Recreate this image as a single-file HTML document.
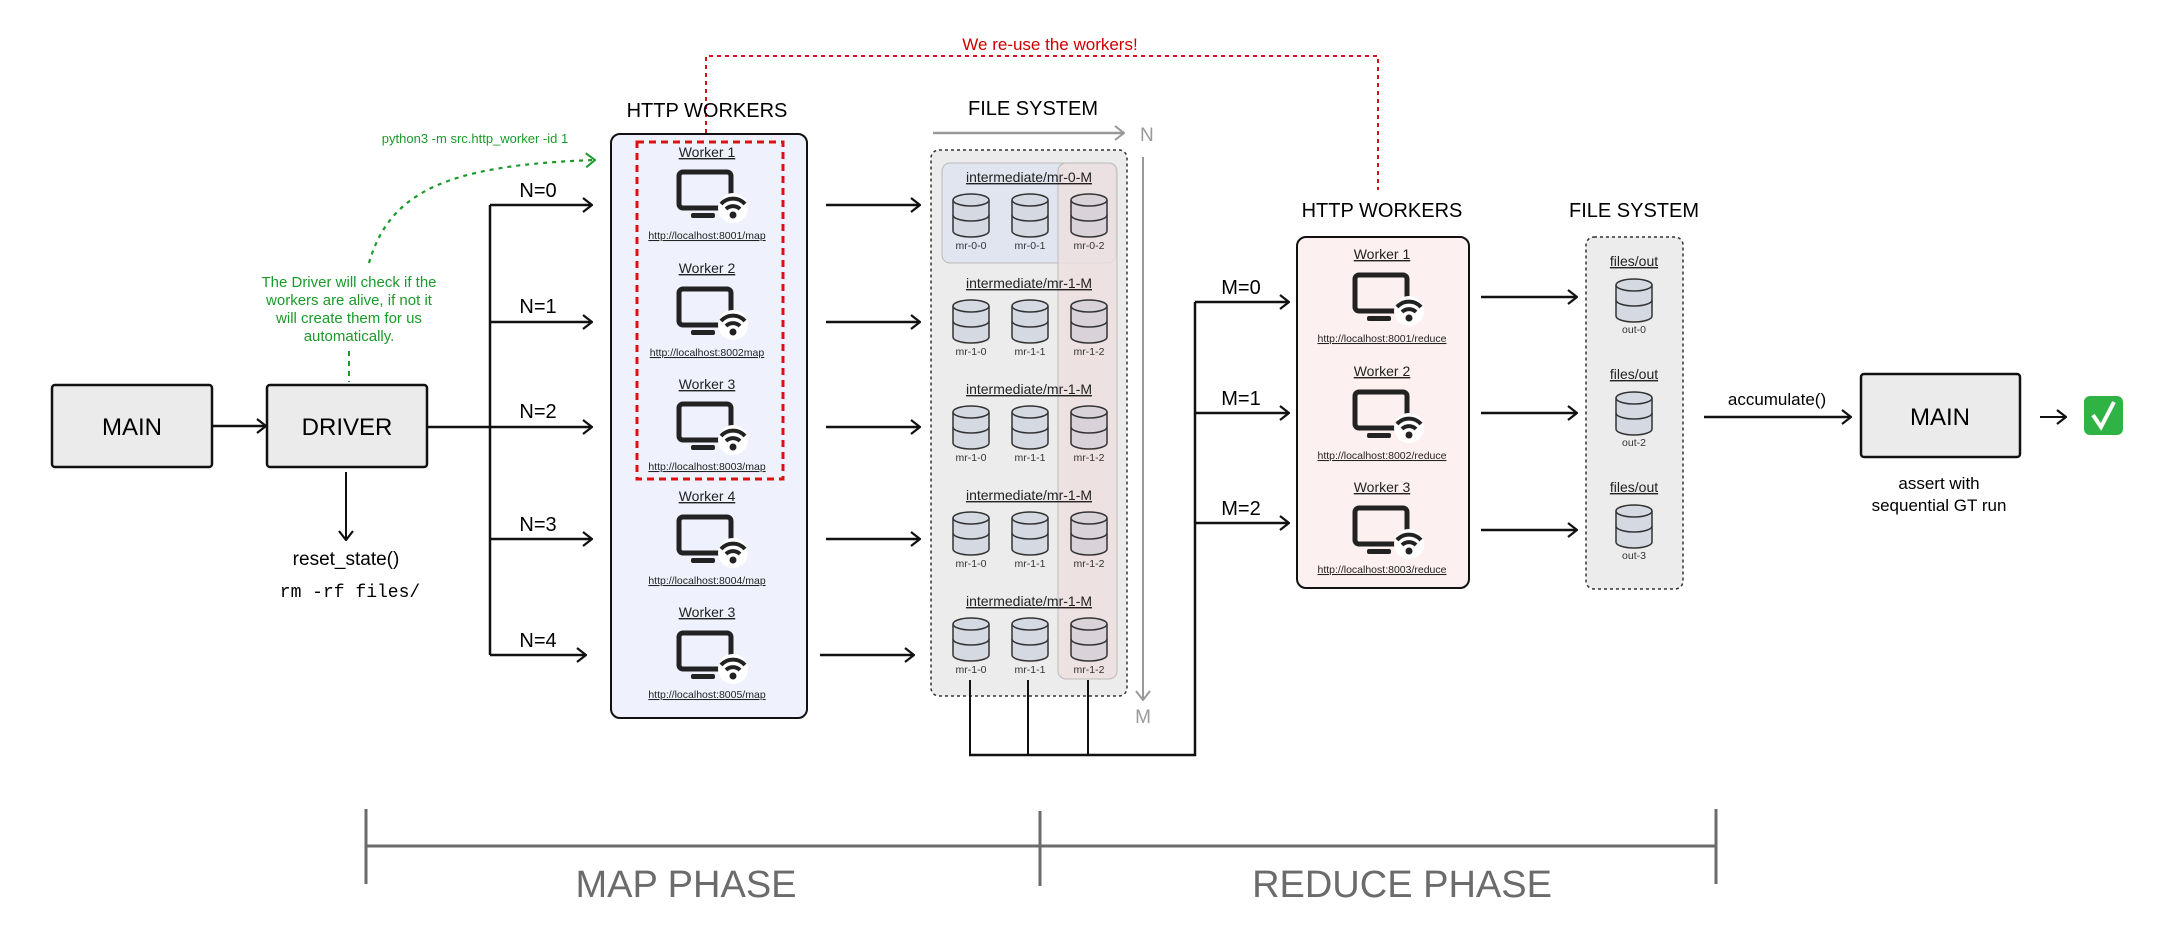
<!DOCTYPE html>
<html><head><meta charset="utf-8"><style>
html,body{margin:0;padding:0;background:#fff;}
svg{display:block;font-family:"Liberation Sans",sans-serif;}
</style></head><body>
<svg width="2176" height="951" viewBox="0 0 2176 951" xmlns="http://www.w3.org/2000/svg">
<defs>
<g id="mon">
  <rect x="-26" y="-18" width="52" height="36" rx="4" fill="none" stroke="#222" stroke-width="5"/>
  <rect x="-14" y="23" width="24" height="5" rx="2" fill="#222"/>
  <circle cx="28" cy="18" r="15" fill="#fff"/>
  <path d="M16,14 a16,16 0 0 1 24,0" fill="none" stroke="#222" stroke-width="4"/>
  <path d="M21,19 a10,10 0 0 1 14,0" fill="none" stroke="#222" stroke-width="4"/>
  <circle cx="28" cy="25" r="3.5" fill="#222"/>
</g>
<g id="cyl">
  <path d="M-18,6 v31 a18,6 0 0 0 36,0 v-31" stroke="#333" stroke-width="1.5"/>
  <path d="M-18,21 a18,6 0 0 0 36,0" fill="none" stroke="#333" stroke-width="1.5"/>
  <ellipse cx="0" cy="6" rx="18" ry="6" stroke="#333" stroke-width="1.5"/>
</g>
<marker id="ah" markerWidth="12" markerHeight="16" refX="11" refY="8" orient="auto" markerUnits="userSpaceOnUse">
  <path d="M2,1 L11,8 L2,15" fill="none" stroke="#111" stroke-width="2.2"/>
</marker>
<marker id="ahg" markerWidth="12" markerHeight="16" refX="11" refY="8" orient="auto" markerUnits="userSpaceOnUse">
  <path d="M2,1 L11,8 L2,15" fill="none" stroke="#999" stroke-width="2"/>
</marker>
<marker id="ahgr" markerWidth="12" markerHeight="16" refX="11" refY="8" orient="auto" markerUnits="userSpaceOnUse">
  <path d="M2,1 L11,8 L2,15" fill="none" stroke="#1a9a2a" stroke-width="2"/>
</marker>
</defs>

<path d="M706,141 V56 H1378 V190" fill="none" stroke="#d11" stroke-width="2" stroke-dasharray="4,4"/>
<text x="1050" y="50" font-size="17" fill="#c00" text-anchor="middle">We re-use the workers!</text>

<rect x="52" y="385" width="160" height="82" rx="3" fill="#ebebeb" stroke="#111" stroke-width="2.5"/>
<text x="132" y="435" font-size="24" text-anchor="middle">MAIN</text>
<rect x="267" y="385" width="160" height="82" rx="3" fill="#ebebeb" stroke="#111" stroke-width="2.5"/>
<text x="347" y="435" font-size="24" text-anchor="middle">DRIVER</text>
<line x1="212" y1="426" x2="266" y2="426" stroke="#111" stroke-width="2.5" marker-end="url(#ah)"/>
<line x1="346" y1="472" x2="346" y2="540" stroke="#111" stroke-width="2" marker-end="url(#ah)"/>
<text x="346" y="565" font-size="19" text-anchor="middle">reset_state()</text>
<text x="350" y="597" font-size="18" text-anchor="middle" font-family="Liberation Mono, monospace">rm -rf files/</text>

<text x="475" y="143" font-size="13" fill="#1a9a2a" text-anchor="middle">python3 -m src.http_worker -id 1</text>
<path d="M369,263 C390,190 450,165 595,160" fill="none" stroke="#1a9a2a" stroke-width="2.2" stroke-dasharray="4,5" marker-end="url(#ahgr)"/>
<g font-size="15" fill="#1a9a2a" text-anchor="middle">
<text x="349" y="287">The Driver will check if the</text>
<text x="349" y="305">workers are alive, if not it</text>
<text x="349" y="323">will create them for us</text>
<text x="349" y="341">automatically.</text>
</g>
<line x1="349" y1="351" x2="349" y2="382" stroke="#1a9a2a" stroke-width="2" stroke-dasharray="5,5"/>

<g stroke="#111" stroke-width="2.5" fill="none">
<line x1="427" y1="427" x2="490" y2="427"/>
<path d="M490,205 V655"/>
<line x1="490" y1="205" x2="592" y2="205" marker-end="url(#ah)"/>
<line x1="490" y1="322" x2="592" y2="322" marker-end="url(#ah)"/>
<line x1="490" y1="427" x2="592" y2="427" marker-end="url(#ah)"/>
<line x1="490" y1="539" x2="592" y2="539" marker-end="url(#ah)"/>
<line x1="490" y1="655" x2="586" y2="655" marker-end="url(#ah)"/>
</g>
<g font-size="20" text-anchor="middle">
<text x="538" y="197">N=0</text><text x="538" y="313">N=1</text><text x="538" y="418">N=2</text><text x="538" y="531">N=3</text><text x="538" y="647">N=4</text>
</g>

<text x="707" y="117" font-size="20" text-anchor="middle">HTTP WORKERS</text>
<rect x="611" y="134" width="196" height="584" rx="9" fill="#eff2fd" stroke="#111" stroke-width="2"/>
<rect x="637" y="142" width="146" height="337" fill="none" stroke="#d11" stroke-width="3" stroke-dasharray="7,5"/>
<g font-size="14" text-anchor="middle" fill="#222">
<text x="707" y="157" text-decoration="underline">Worker 1</text>
<text x="707" y="273" text-decoration="underline">Worker 2</text>
<text x="707" y="389" text-decoration="underline">Worker 3</text>
<text x="707" y="501" text-decoration="underline">Worker 4</text>
<text x="707" y="617" text-decoration="underline">Worker 3</text>
</g>
<g font-size="10.5" text-anchor="middle" fill="#222" text-decoration="underline">
<text x="707" y="239">http://localhost:8001/map</text>
<text x="707" y="356">http://localhost:8002map</text>
<text x="707" y="470">http://localhost:8003/map</text>
<text x="707" y="584">http://localhost:8004/map</text>
<text x="707" y="698">http://localhost:8005/map</text>
</g>
<use href="#mon" x="705" y="190"/>
<use href="#mon" x="705" y="307"/>
<use href="#mon" x="705" y="422"/>
<use href="#mon" x="705" y="535"/>
<use href="#mon" x="705" y="651"/>

<g stroke="#111" stroke-width="2.5">
<line x1="826" y1="205" x2="920" y2="205" marker-end="url(#ah)"/>
<line x1="826" y1="322" x2="920" y2="322" marker-end="url(#ah)"/>
<line x1="826" y1="427" x2="920" y2="427" marker-end="url(#ah)"/>
<line x1="826" y1="539" x2="920" y2="539" marker-end="url(#ah)"/>
<line x1="820" y1="655" x2="914" y2="655" marker-end="url(#ah)"/>
</g>

<text x="1033" y="115" font-size="20" text-anchor="middle">FILE SYSTEM</text>
<line x1="933" y1="133" x2="1124" y2="133" stroke="#999" stroke-width="2.5" marker-end="url(#ahg)"/>
<text x="1140" y="141" font-size="19" fill="#999">N</text>
<line x1="1143" y1="157" x2="1143" y2="700" stroke="#999" stroke-width="2" marker-end="url(#ahg)"/>
<text x="1143" y="723" font-size="19" fill="#999" text-anchor="middle">M</text>
<rect x="931" y="150" width="196" height="546" rx="8" fill="#ececec" stroke="#333" stroke-width="1.5" stroke-dasharray="3,3"/>
<rect x="942" y="163" width="174" height="100" rx="8" fill="#e0e5f0" stroke="#bbb" stroke-width="1"/>
<rect x="1058" y="163" width="59" height="516" rx="8" fill="#eedfdf" fill-opacity="0.8" stroke="#bbb" stroke-width="1"/>
<g font-size="14" text-anchor="middle" fill="#222" text-decoration="underline">
<text x="1029" y="182">intermediate/mr-0-M</text>
<text x="1029" y="288">intermediate/mr-1-M</text>
<text x="1029" y="394">intermediate/mr-1-M</text>
<text x="1029" y="500">intermediate/mr-1-M</text>
<text x="1029" y="606">intermediate/mr-1-M</text>
</g>
<g fill="#d5d9e1">
<use href="#cyl" x="971" y="194"/><use href="#cyl" x="1030" y="194"/>
<use href="#cyl" x="971" y="300"/><use href="#cyl" x="1030" y="300"/>
<use href="#cyl" x="971" y="406"/><use href="#cyl" x="1030" y="406"/>
<use href="#cyl" x="971" y="512"/><use href="#cyl" x="1030" y="512"/>
<use href="#cyl" x="971" y="618"/><use href="#cyl" x="1030" y="618"/>
</g>
<g fill="#d9d2d8">
<use href="#cyl" x="1089" y="194"/><use href="#cyl" x="1089" y="300"/><use href="#cyl" x="1089" y="406"/><use href="#cyl" x="1089" y="512"/><use href="#cyl" x="1089" y="618"/>
</g>
<g font-size="10.5" text-anchor="middle" fill="#333">
<text x="971" y="249">mr-0-0</text><text x="1030" y="249">mr-0-1</text><text x="1089" y="249">mr-0-2</text>
<text x="971" y="355">mr-1-0</text><text x="1030" y="355">mr-1-1</text><text x="1089" y="355">mr-1-2</text>
<text x="971" y="461">mr-1-0</text><text x="1030" y="461">mr-1-1</text><text x="1089" y="461">mr-1-2</text>
<text x="971" y="567">mr-1-0</text><text x="1030" y="567">mr-1-1</text><text x="1089" y="567">mr-1-2</text>
<text x="971" y="673">mr-1-0</text><text x="1030" y="673">mr-1-1</text><text x="1089" y="673">mr-1-2</text>
</g>

<g stroke="#111" stroke-width="2.5" fill="none">
<line x1="970" y1="680" x2="970" y2="755" stroke-width="2"/>
<line x1="1028" y1="680" x2="1028" y2="755" stroke-width="2"/>
<line x1="1088" y1="680" x2="1088" y2="755" stroke-width="2"/>
<path d="M969,755 H1195 V302"/>
<line x1="1195" y1="302" x2="1289" y2="302" marker-end="url(#ah)"/>
<line x1="1195" y1="413" x2="1289" y2="413" marker-end="url(#ah)"/>
<line x1="1195" y1="523" x2="1289" y2="523" marker-end="url(#ah)"/>
</g>
<g font-size="20" text-anchor="middle">
<text x="1241" y="294">M=0</text><text x="1241" y="405">M=1</text><text x="1241" y="515">M=2</text>
</g>

<text x="1382" y="217" font-size="20" text-anchor="middle">HTTP WORKERS</text>
<rect x="1297" y="237" width="172" height="351" rx="9" fill="#fdf0f0" stroke="#111" stroke-width="2"/>
<g font-size="14" text-anchor="middle" fill="#222" text-decoration="underline">
<text x="1382" y="259">Worker 1</text>
<text x="1382" y="376">Worker 2</text>
<text x="1382" y="492">Worker 3</text>
</g>
<g font-size="10.5" text-anchor="middle" fill="#222" text-decoration="underline">
<text x="1382" y="342">http://localhost:8001/reduce</text>
<text x="1382" y="459">http://localhost:8002/reduce</text>
<text x="1382" y="573">http://localhost:8003/reduce</text>
</g>
<use href="#mon" x="1381" y="293"/>
<use href="#mon" x="1381" y="410"/>
<use href="#mon" x="1381" y="526"/>

<g stroke="#111" stroke-width="2.5">
<line x1="1481" y1="297" x2="1577" y2="297" marker-end="url(#ah)"/>
<line x1="1481" y1="413" x2="1577" y2="413" marker-end="url(#ah)"/>
<line x1="1481" y1="530" x2="1577" y2="530" marker-end="url(#ah)"/>
</g>

<text x="1634" y="217" font-size="20" text-anchor="middle">FILE SYSTEM</text>
<rect x="1586" y="237" width="97" height="352" rx="8" fill="#ececec" stroke="#333" stroke-width="1.5" stroke-dasharray="3,3"/>
<g font-size="14" text-anchor="middle" fill="#222" text-decoration="underline">
<text x="1634" y="266">files/out</text><text x="1634" y="379">files/out</text><text x="1634" y="492">files/out</text>
</g>
<g fill="#d5d9e1">
<use href="#cyl" x="1634" y="279"/><use href="#cyl" x="1634" y="392"/><use href="#cyl" x="1634" y="505"/>
</g>
<g font-size="10.5" text-anchor="middle" fill="#333">
<text x="1634" y="333">out-0</text><text x="1634" y="446">out-2</text><text x="1634" y="559">out-3</text>
</g>

<text x="1777" y="405" font-size="17" text-anchor="middle">accumulate()</text>
<line x1="1704" y1="417" x2="1851" y2="417" stroke="#111" stroke-width="2.5" marker-end="url(#ah)"/>
<rect x="1861" y="374" width="159" height="83" rx="3" fill="#ebebeb" stroke="#111" stroke-width="2.5"/>
<text x="1940" y="425" font-size="24" text-anchor="middle">MAIN</text>
<line x1="2040" y1="417" x2="2066" y2="417" stroke="#111" stroke-width="2" marker-end="url(#ah)"/>
<rect x="2084" y="396" width="39" height="39" rx="6" fill="#2fb344"/>
<path d="M2093,415 L2101,427 L2114,402" fill="none" stroke="#fff" stroke-width="4"/>
<text x="1939" y="489" font-size="17" text-anchor="middle">assert with</text>
<text x="1939" y="511" font-size="17" text-anchor="middle">sequential GT run</text>

<g stroke="#6b6b6b" stroke-width="3">
<line x1="366" y1="846" x2="1716" y2="846"/>
<line x1="366" y1="809" x2="366" y2="884"/>
<line x1="1040" y1="811" x2="1040" y2="886"/>
<line x1="1716" y1="809" x2="1716" y2="884"/>
</g>
<text x="686" y="897" font-size="38" fill="#6b6b6b" text-anchor="middle">MAP PHASE</text>
<text x="1402" y="897" font-size="38" fill="#6b6b6b" text-anchor="middle">REDUCE PHASE</text>
</svg>
</body></html>
